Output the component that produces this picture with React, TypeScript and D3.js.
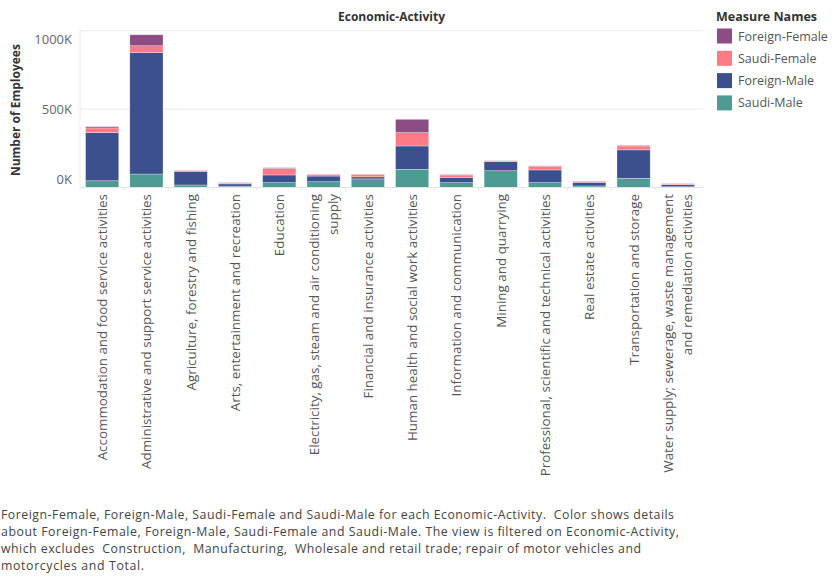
import React from "react";
import * as d3 from "d3";

const categories = [
  "Accommodation and food service activities",
  "Administrative and support service activities",
  "Agriculture, forestry and fishing",
  "Arts, entertainment and recreation",
  "Education",
  "Electricity, gas, steam and air conditioning supply",
  "Financial and insurance activities",
  "Human health and social work activities",
  "Information and communication",
  "Mining and quarrying",
  "Professional, scientific and technical activities",
  "Real estate activities",
  "Transportation and storage",
  "Water supply; sewerage, waste management and remediation activities",
];

const tickLabelLines = [
  ["Accommodation and food service activities"],
  ["Administrative and support service activities"],
  ["Agriculture, forestry and fishing"],
  ["Arts, entertainment and recreation"],
  ["Education"],
  ["Electricity, gas, steam and air conditioning", "supply"],
  ["Financial and insurance activities"],
  ["Human health and social work activities"],
  ["Information and communication"],
  ["Mining and quarrying"],
  ["Professional, scientific and technical activities"],
  ["Real estate activities"],
  ["Transportation and storage"],
  ["Water supply; sewerage, waste management", "and remediation activities"],
];

// values in thousands of employees
const saudiMale = [43, 86, 16, 8, 31, 37, 55, 116, 31, 107, 31, 10, 59, 5];
const foreignMale = [307, 775, 87, 15, 49, 36, 13, 149, 34, 58, 81, 23, 181, 13];
const saudiFemale = [30, 43, 4, 5, 42, 9, 15, 85, 15, 5, 23, 5, 25, 4];
const foreignFemale = [8, 70, 3, 3, 4, 2, 2, 85, 3, 2, 3, 2, 4, 2];

const seriesNames = ["Saudi-Male", "Foreign-Male", "Saudi-Female", "Foreign-Female"];
const legendOrder = ["Foreign-Female", "Saudi-Female", "Foreign-Male", "Saudi-Male"];
const seriesColors = ["#4d9c93", "#3c4f8e", "#fd7a86", "#8d4c84"];

const yTicks = [0, 500, 1000];
const yTickLabels = ["0K", "500K", "1000K"];

const captionLines = [
  "Foreign-Female, Foreign-Male, Saudi-Female and Saudi-Male for each Economic-Activity.  Color shows details",
  "about Foreign-Female, Foreign-Male, Saudi-Female and Saudi-Male. The view is filtered on Economic-Activity,",
  "which excludes  Construction,  Manufacturing,  Wholesale and retail trade; repair of motor vehicles and",
  "motorcycles and Total.",
];
const captionWidths = [673, 678, 640, 143];

const W = 838;
const H = 579;
const FONT = "'Open Sans', 'Noto Sans', sans-serif";

export default function App() {
  const plotLeft = 80;
  const plotRight = 703;
  const yBase = 187.5;
  const yTop = 30.7;

  const x = d3
    .scaleBand<string>()
    .domain(categories)
    .range([80, 700])
    .paddingInner(0.25)
    .paddingOuter(0.125);
  const y = d3.scaleLinear().domain([0, 1000]).range([yBase, yTop]);
  const color = d3.scaleOrdinal<string, string>().domain(seriesNames).range(seriesColors);

  const table = categories.map((c, i) => ({
    category: c,
    "Saudi-Male": saudiMale[i],
    "Foreign-Male": foreignMale[i],
    "Saudi-Female": saudiFemale[i],
    "Foreign-Female": foreignFemale[i],
  }));
  const stacked = d3.stack<any>().keys(seriesNames)(table);

  const labelOffset = (i: number) => (i === 0 ? -9 : i === yTicks.length - 1 ? 8 : 0);

  return (
    <svg
      width={W}
      height={H}
      style={{ position: "absolute", left: 0, top: 0, background: "#fff" }}
      fontFamily={FONT}
    >
      {/* title */}
      <text
        x={(plotLeft + plotRight) / 2}
        y={21}
        textAnchor="middle"
        fontSize={12}
        fontWeight="bold"
        fill="#333"
      >
        Economic-Activity
      </text>

      {/* gridlines */}
      {yTicks
        .filter((t) => t > 0)
        .map((t) => (
          <line key={t} x1={plotLeft} x2={plotRight} y1={y(t)} y2={y(t)} stroke="#ebebeb" strokeWidth={1} />
        ))}
      {/* left axis line */}
      <line x1={plotLeft} x2={plotLeft} y1={yTop - 2} y2={yBase + 3} stroke="#ececec" strokeWidth={1} />

      {/* y tick labels */}
      {yTicks.map((t, i) => (
        <text
          key={t}
          x={72}
          y={y(t) + labelOffset(i)}
          dominantBaseline="central"
          textAnchor="end"
          fontSize={13}
          fill="#666"
        >
          {yTickLabels[i]}
        </text>
      ))}

      {/* y axis title */}
      <text
        transform={`translate(15,${(yTop + yBase) / 2 + 1}) rotate(-90)`}
        textAnchor="middle"
        dominantBaseline="central"
        fontSize={12}
        fontWeight="bold"
        fill="#333"
      >
        Number of Employees
      </text>

      {/* bars */}
      {stacked.map((s) => (
        <g key={s.key} fill={color(s.key)}>
          {s.map((d, i) => (
            <rect
              key={i}
              x={x(categories[i])}
              width={x.bandwidth()}
              y={y(d[1])}
              height={Math.max(0, y(d[0]) - y(d[1]))}
              stroke="#fff"
              strokeOpacity={0.5}
              strokeWidth={0.6}
            />
          ))}
        </g>
      ))}

      {/* baseline and ticks */}
      <line x1={plotLeft} x2={plotRight} y1={yBase} y2={yBase} stroke="#e3e3e3" strokeWidth={1} />
      {categories.map((c, i) =>
        i === 0 ? null : (
          <line
            key={c}
            x1={(x(c) as number) - (x.step() - x.bandwidth()) / 2}
            x2={(x(c) as number) - (x.step() - x.bandwidth()) / 2}
            y1={yBase}
            y2={yBase + 3}
            stroke="#e3e3e3"
          />
        )
      )}

      {/* x tick labels */}
      {categories.map((c, i) => {
        const cx = (x(c) as number) + x.bandwidth() / 2;
        const lines = tickLabelLines[i];
        return (
          <g key={c} transform={`translate(${cx},194) rotate(-90)`}>
            {lines.map((ln, li) => (
              <text
                key={li}
                x={0}
                y={(li - (lines.length - 1) / 2) * 19}
                textAnchor="end"
                dominantBaseline="central"
                fontSize={13.4}
                fill="#555"
              >
                {ln}
              </text>
            ))}
          </g>
        );
      })}

      {/* legend */}
      <text x={716} y={21} fontSize={12.5} fontWeight="bold" fill="#333">
        Measure Names
      </text>
      {legendOrder.map((k, i) => (
        <g key={k} transform={`translate(717,${36 + i * 22.3})`}>
          <rect x={0} y={-7.5} width={15} height={15} fill={color(k)} />
          <text x={21} y={0} dominantBaseline="central" fontSize={12.5} fill="#555">
            {k}
          </text>
        </g>
      ))}

      {/* caption */}
      {captionLines.map((ln, i) => (
        <text
          key={i}
          x={1}
          y={519 + i * 16.9}
          fontSize={12.3}
          fill="#444"
          textLength={captionWidths[i]}
          lengthAdjust="spacing"
          style={{ whiteSpace: "pre" }}
        >
          {ln}
        </text>
      ))}
    </svg>
  );
}
